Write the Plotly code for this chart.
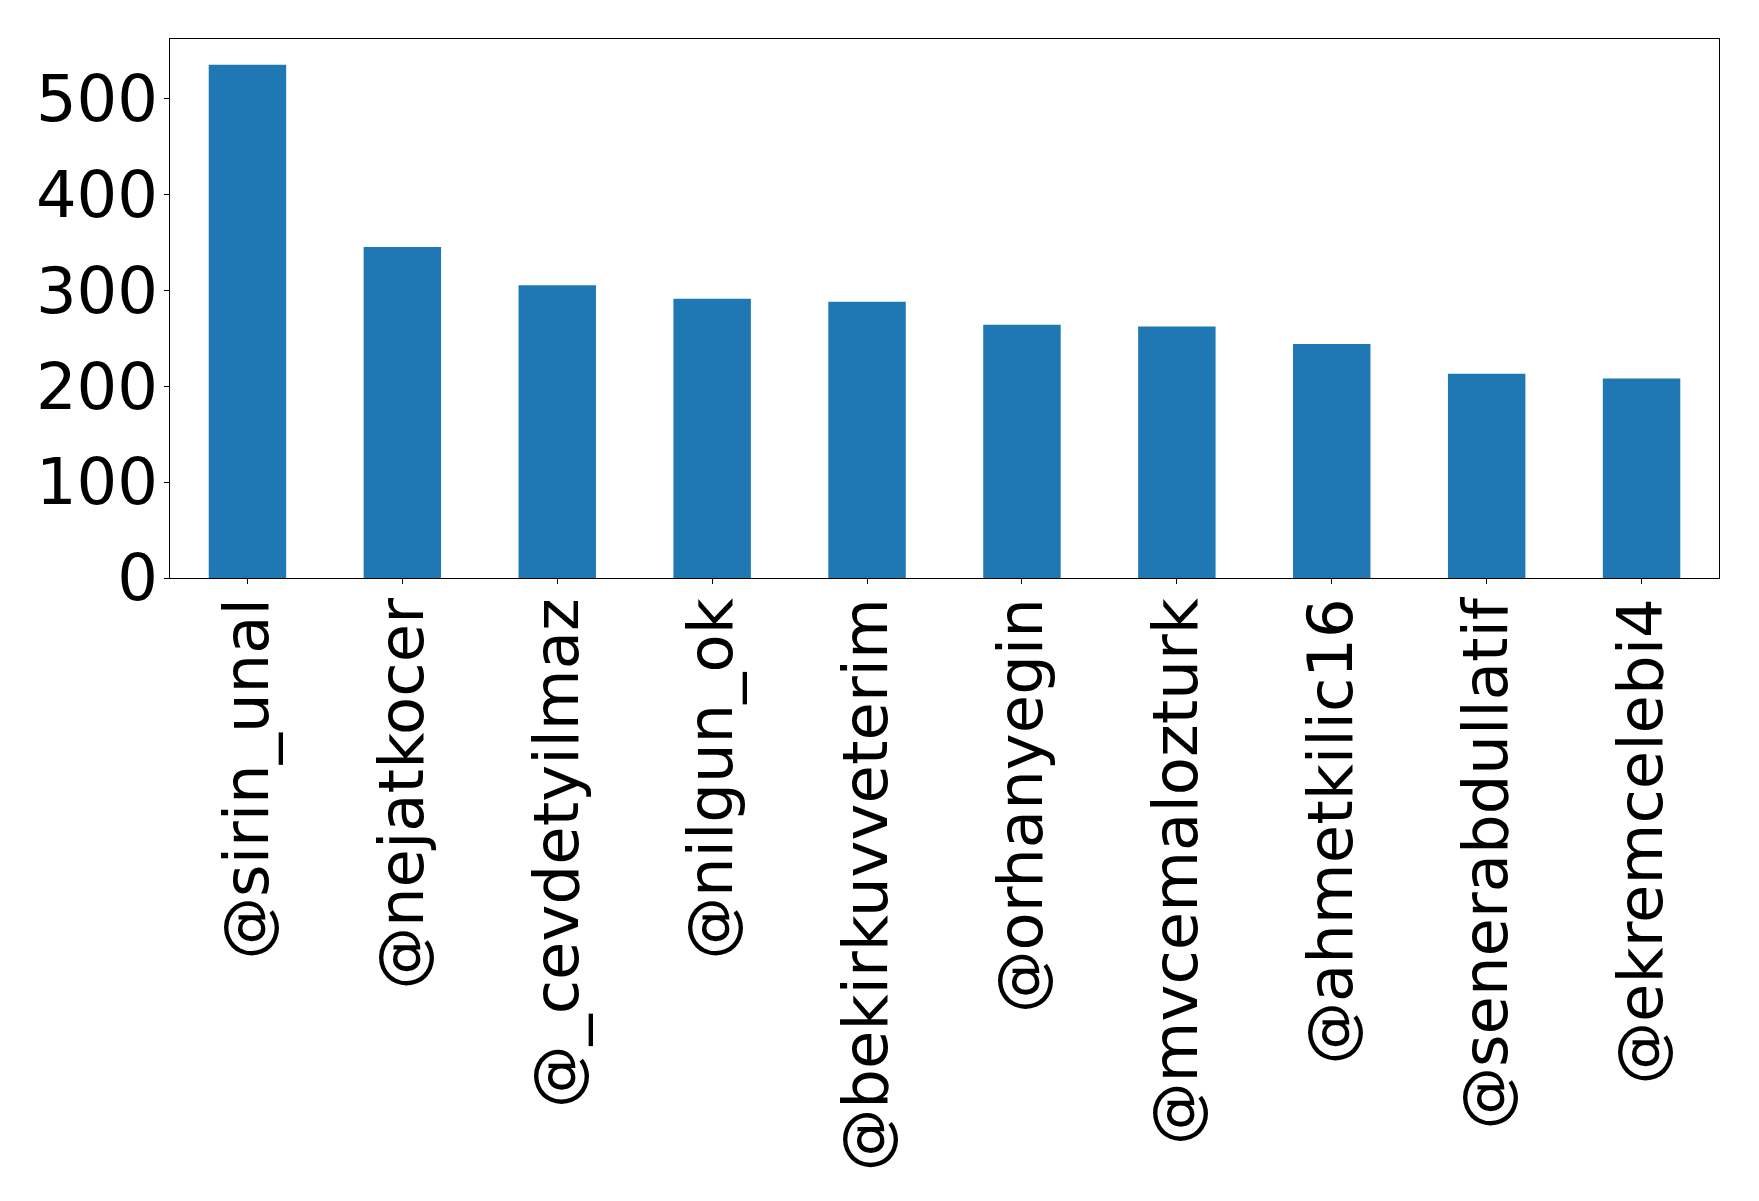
import plotly.graph_objects as go

users = ["@sirin_unal", "@nejatkocer", "@_cevdetyilmaz", "@nilgun_ok", "@bekirkuvveterim",
         "@orhanyegin", "@mvcemalozturk", "@ahmetkilic16", "@senerabdullatif", "@ekremcelebi4"]
counts = [535, 345, 305, 291, 288, 264, 262, 244, 213, 208]
y_ticks = [0, 100, 200, 300, 400, 500]

fig = go.Figure(go.Bar(x=users, y=counts, marker=dict(color="#1f77b4", line=dict(width=0))))

font = dict(family="DejaVu Sans", size=64, color="black")
xfont = dict(family="DejaVu Sans", size=62.5, color="black")
fig.update_layout(
    width=1759, height=1201,
    margin=dict(l=162, r=48, t=31, b=631),
    paper_bgcolor="white", plot_bgcolor="white",
    bargap=0.5, showlegend=False,
    font=font,
)
fig.update_xaxes(
    type="category", range=[-0.5, len(users) - 0.5],
    tickangle=-90, ticks="outside", ticklen=5, tickcolor="black",
    showline=True, linecolor="black", linewidth=1.3, mirror=True,
    showgrid=False, tickfont=xfont, ticklabelstandoff=-11, automargin=False,
)
fig.update_yaxes(
    range=[0, max(counts) * 1.05], tickvals=y_ticks,
    ticks="outside", ticklen=5, tickcolor="black",
    showline=True, linecolor="black", linewidth=1.3, mirror=True,
    showgrid=False, zeroline=False, tickfont=font, ticklabelstandoff=-7, automargin=False,
)
fig.write_html("out.html")
